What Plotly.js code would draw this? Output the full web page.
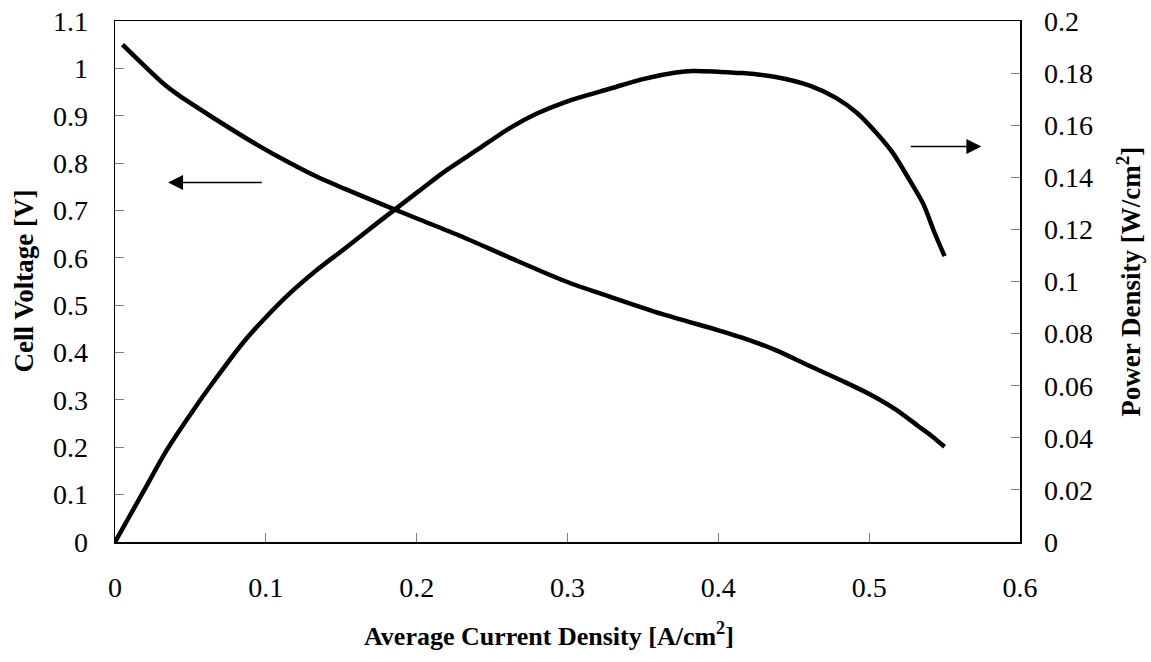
<!DOCTYPE html>
<html><head><meta charset="utf-8">
<script src="https://cdn.plot.ly/plotly-3.0.1.min.js"></script>
<style>html,body{margin:0;padding:0;background:#fff}#chart{width:1151px;height:662px}</style>
</head><body><div id="chart"></div>
<script>
// Cell voltage curve (left axis)
const currentV = [0.005, 0.032, 0.041, 0.063, 0.094, 0.116, 0.134, 0.152, 0.184, 0.201, 0.229, 0.262, 0.299, 0.328, 0.363, 0.40, 0.42, 0.438, 0.461, 0.483, 0.501, 0.518, 0.532, 0.541, 0.55];
const voltage  = [1.05, 0.968, 0.946, 0.90, 0.839, 0.80, 0.771, 0.746, 0.704, 0.682, 0.646, 0.60, 0.55, 0.518, 0.481, 0.447, 0.427, 0.405, 0.371, 0.339, 0.311, 0.279, 0.246, 0.225, 0.201];
// Power density curve (right axis)
const currentP = [0, 0.019, 0.034, 0.052, 0.063, 0.085, 0.098, 0.116, 0.134, 0.152, 0.174, 0.201, 0.218, 0.240, 0.262, 0.279, 0.299, 0.328, 0.350, 0.372, 0.383, 0.40, 0.416, 0.438, 0.461, 0.478, 0.492, 0.505, 0.516, 0.527, 0.536, 0.543, 0.55];
const power    = [0, 0.0195, 0.035, 0.0507, 0.0597, 0.0766, 0.0850, 0.0955, 0.1045, 0.1125, 0.1225, 0.1345, 0.1420, 0.1505, 0.159, 0.1643, 0.169, 0.174, 0.1777, 0.1802, 0.1808, 0.1805, 0.1800, 0.1785, 0.1751, 0.1705, 0.1647, 0.1569, 0.1491, 0.1387, 0.1296, 0.1192, 0.1097];

const xTickVals = [0, 0.1, 0.2, 0.3, 0.4, 0.5, 0.6];
const xTickText = ["0", "0.1", "0.2", "0.3", "0.4", "0.5", "0.6"];
const yTickVals = [0, 0.1, 0.2, 0.3, 0.4, 0.5, 0.6, 0.7, 0.8, 0.9, 1.0, 1.1];
const yTickText = ["0", "0.1", "0.2", "0.3", "0.4", "0.5", "0.6", "0.7", "0.8", "0.9", "1", "1.1"];
const y2TickVals = [0, 0.02, 0.04, 0.06, 0.08, 0.10, 0.12, 0.14, 0.16, 0.18, 0.20];
const y2TickText = ["0", "0.02", "0.04", "0.06", "0.08", "0.1", "0.12", "0.14", "0.16", "0.18", "0.2"];

const xTitle = "Average Current Density [A/cm<sup>2</sup>]";
const yTitle = "Cell Voltage [V]";
const y2Title = "Power Density [W/cm<sup>2</sup>]";

const serif = "Liberation Serif, Times New Roman, serif";
const tickFont = {family: serif, size: 28, color: "#000"};
const xTitleFont = {family: serif, size: 26, color: "#000"};
const yTitleFont = {family: serif, size: 27, color: "#000"};

const traces = [
  {x: currentV, y: voltage, type: "scatter", mode: "lines", yaxis: "y",
   line: {color: "#000", width: 4.5, shape: "spline", smoothing: 0.8}, hoverinfo: "skip"},
  {x: currentP, y: power, type: "scatter", mode: "lines", yaxis: "y2",
   line: {color: "#000", width: 4.5, shape: "spline", smoothing: 0.8}, hoverinfo: "skip"}
];

const axisCommon = {
  showgrid: false, zeroline: false, showline: true, linecolor: "#000", linewidth: 1.5,
  ticks: "inside", ticklen: 9, tickwidth: 1, tickcolor: "#808080", tickfont: tickFont
};

const layout = {
  width: 1151, height: 662,
  margin: {l: 115, r: 131, t: 21, b: 120},
  paper_bgcolor: "#fff", plot_bgcolor: "#fff",
  showlegend: false,
  xaxis: Object.assign({}, axisCommon, {range: [0, 0.6], tickmode: "array", tickvals: xTickVals, ticktext: xTickText, mirror: true, ticklabelstandoff: 20}),
  yaxis: Object.assign({}, axisCommon, {range: [0, 1.1], tickmode: "array", tickvals: yTickVals, ticktext: yTickText, ticklabelstandoff: 20}),
  yaxis2: Object.assign({}, axisCommon, {range: [0, 0.2], tickmode: "array", tickvals: y2TickVals, ticktext: y2TickText, overlaying: "y", side: "right", ticklabelstandoff: 17}),
  annotations: [
    {text: "<b>" + xTitle + "</b>", xref: "paper", yref: "paper", x: 0.48, y: -0.178, showarrow: false, font: xTitleFont, xanchor: "center", yanchor: "middle"},
    {text: "<b>" + yTitle + "</b>", xref: "paper", yref: "paper", x: -0.1016, y: 0.5, showarrow: false, font: yTitleFont, textangle: -90, xanchor: "center", yanchor: "middle"},
    {text: "<b>" + y2Title + "</b>", xref: "paper", yref: "paper", x: 1.1196, y: 0.5, showarrow: false, font: yTitleFont, textangle: -90, xanchor: "center", yanchor: "middle"},
    {text: "", xref: "x", yref: "y", x: 0.0352, y: 0.759, axref: "x", ayref: "y", ax: 0.0983, ay: 0.759, showarrow: true, arrowhead: 2, arrowsize: 2, arrowwidth: 1.5, arrowcolor: "#000"},
    {text: "", xref: "x", yref: "y", x: 0.5744, y: 0.835, axref: "x", ayref: "y", ax: 0.5266, ay: 0.835, showarrow: true, arrowhead: 2, arrowsize: 2, arrowwidth: 1.5, arrowcolor: "#000"}
  ]
};

Plotly.newPlot("chart", traces, layout, {displayModeBar: false, staticPlot: true});
</script>
</body></html>
